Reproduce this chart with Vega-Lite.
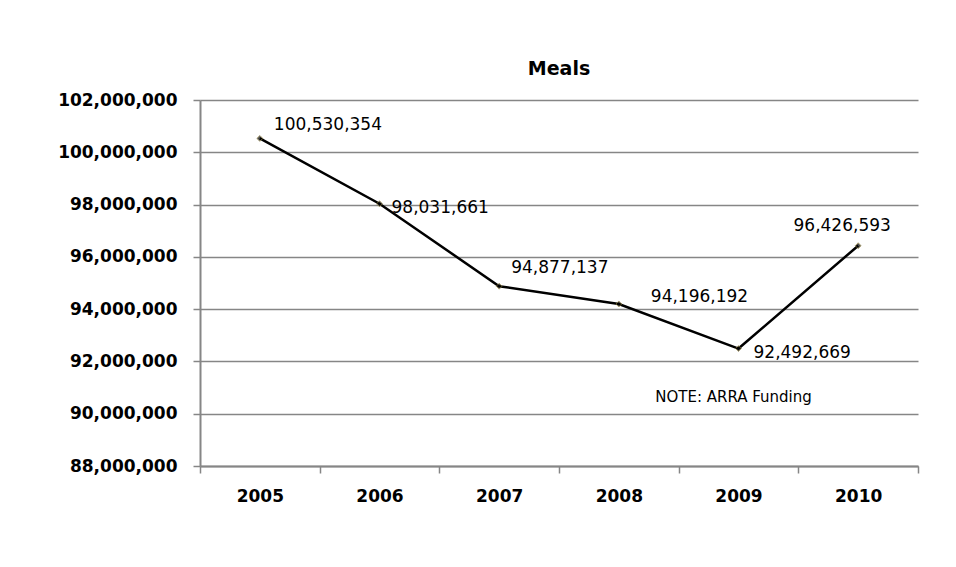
{
  "$schema": "https://vega.github.io/schema/vega-lite/v6.json",
  "autosize": {"type": "none"},
  "padding": {"left": 200, "top": 100, "right": 38, "bottom": 101},
  "width": 718,
  "height": 366,
  "background": "white",
  "title": {"text": "Meals", "font": "DejaVu Sans", "fontSize": 19, "fontWeight": "bold", "color": "black", "anchor": "middle", "offset": 12},
  "datasets": {
    "meals": [
      {"year": "2005", "meals": 100530354, "label": "100,530,354"},
      {"year": "2006", "meals": 98031661, "label": "98,031,661"},
      {"year": "2007", "meals": 94877137, "label": "94,877,137"},
      {"year": "2008", "meals": 94196192, "label": "94,196,192"},
      {"year": "2009", "meals": 92492669, "label": "92,492,669"},
      {"year": "2010", "meals": 96426593, "label": "96,426,593"}
    ],
    "note": [
      {"year": "2009", "meals": 90650000, "text": "NOTE:  ARRA Funding"}
    ]
  },
  "data": {"name": "meals"},
  "encoding": {
    "x": {
      "field": "year", "type": "ordinal", "title": null,
      "scale": {"paddingInner": 0, "paddingOuter": 0},
      "axis": {"labelAngle": 0, "labelFont": "DejaVu Sans", "labelFontSize": 17, "labelFontWeight": "bold", "labelColor": "black", "labelPadding": 15, "tickBand": "extent", "tickSize": 7, "tickColor": "#868686", "tickWidth": 1.5, "domainColor": "#868686", "domainWidth": 2, "grid": false}
    },
    "y": {
      "field": "meals", "type": "quantitative", "title": null,
      "scale": {"domain": [88000000, 102000000], "nice": false, "zero": false},
      "axis": {"values": [88000000, 90000000, 92000000, 94000000, 96000000, 98000000, 100000000, 102000000], "format": ",.0f", "labelFont": "DejaVu Sans", "labelFontSize": 17, "labelFontWeight": "bold", "labelColor": "black", "labelPadding": 16, "tickSize": 7, "tickColor": "#868686", "tickWidth": 1.5, "domainColor": "#868686", "domainWidth": 2, "grid": true, "gridColor": "#868686", "gridWidth": 1.5, "gridOpacity": 1}
    }
  },
  "layer": [
    {"mark": {"type": "line", "color": "black", "strokeWidth": 2.5}},
    {"mark": {"type": "point", "shape": "diamond", "filled": true, "color": "black", "stroke": "#8a7a3a", "strokeWidth": 1, "size": 34}},
    {"transform": [{"filter": "datum.year == '2005'"}], "mark": {"type": "text", "align": "left", "baseline": "middle", "dx": 14, "dy": -13, "font": "DejaVu Sans", "fontSize": 17, "color": "black"}, "encoding": {"text": {"field": "label"}}},
    {"transform": [{"filter": "datum.year == '2006'"}], "mark": {"type": "text", "align": "left", "baseline": "middle", "dx": 12, "dy": 4, "font": "DejaVu Sans", "fontSize": 17, "color": "black"}, "encoding": {"text": {"field": "label"}}},
    {"transform": [{"filter": "datum.year == '2007'"}], "mark": {"type": "text", "align": "left", "baseline": "middle", "dx": 12, "dy": -18, "font": "DejaVu Sans", "fontSize": 17, "color": "black"}, "encoding": {"text": {"field": "label"}}},
    {"transform": [{"filter": "datum.year == '2008'"}], "mark": {"type": "text", "align": "left", "baseline": "middle", "dx": 32, "dy": -7, "font": "DejaVu Sans", "fontSize": 17, "color": "black"}, "encoding": {"text": {"field": "label"}}},
    {"transform": [{"filter": "datum.year == '2009'"}], "mark": {"type": "text", "align": "left", "baseline": "middle", "dx": 15, "dy": 4, "font": "DejaVu Sans", "fontSize": 17, "color": "black"}, "encoding": {"text": {"field": "label"}}},
    {"transform": [{"filter": "datum.year == '2010'"}], "mark": {"type": "text", "align": "center", "baseline": "middle", "dx": -16, "dy": -20, "font": "DejaVu Sans", "fontSize": 17, "color": "black"}, "encoding": {"text": {"field": "label"}}},
    {"data": {"name": "note"}, "mark": {"type": "text", "align": "center", "baseline": "middle", "dx": -5, "font": "DejaVu Sans", "fontSize": 15, "color": "black"}, "encoding": {"text": {"field": "text"}}}
  ],
  "config": {"view": {"stroke": null}}
}
